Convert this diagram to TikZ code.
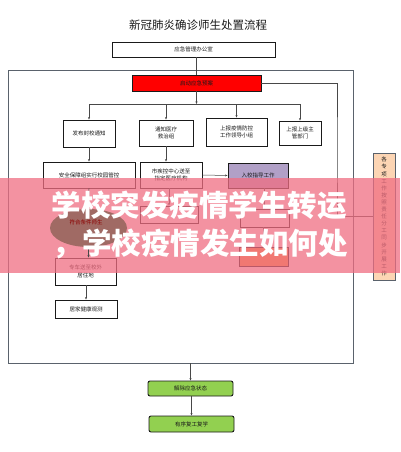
\documentclass[tikz,border=0pt]{standalone}
\usepackage{fontspec}
\setmainfont{Noto Sans CJK SC}
\usetikzlibrary{arrows.meta,shapes.geometric}
\definecolor{fcink}{HTML}{1A1A1A}
\definecolor{fcframe}{HTML}{5A626C}
\definecolor{fcred}{HTML}{FF0000}
\definecolor{fcgreen}{HTML}{92D050}
\definecolor{fcpurple}{HTML}{B1A0C7}
\definecolor{fcpeach}{HTML}{FCD5B4}
\definecolor{fcorange}{HTML}{F79646}
\definecolor{fcbrown}{RGB}{160,106,100}
\definecolor{fcband}{RGB}{240,110,130}
\tikzset{
  flowbox/.style={draw=fcink,line width=0.9pt,fill=white,inner sep=1pt,align=center,
    font=\fontsize{5.5}{7.5}\selectfont\color{fcink}},
  greenbox/.style={flowbox,fill=fcgreen,rounded corners=2pt},
  flowarrow/.style={-{Stealth[length=2.5pt,width=2pt]},fcink!80,line width=0.5pt},
  flowline/.style={fcink!80,line width=0.5pt},
  bandtext/.style={text=white,inner sep=0pt,font=\fontsize{29.5}{31}\selectfont\bfseries}
}

\begin{document}
\begin{tikzpicture}[x=1pt,y=-1pt]
  \useasboundingbox[fill=white] (0,0) rectangle (400,452);
  % title and outer frame
  \node[font=\fontsize{11.5}{13}\selectfont,text=fcink] (title) at (198,25) {新冠肺炎确诊师生处置流程};
  \draw[fcframe,line width=1pt] (8,70) rectangle (353,363);
  \node[flowbox,minimum width=163pt,minimum height=15pt] (office) at (193.5,49.5) {应急管理办公室};
  \node[flowbox,fill=fcred,minimum width=129pt,minimum height=16pt] (plan) at (196.5,83) {启动应急预案};
  % first row
  \node[flowbox,minimum width=52pt,minimum height=27pt] (notice) at (89,133.5) {发布封校通知};
  \node[flowbox,minimum width=54pt,minimum height=26pt] (medical) at (166,133) {通知医疗\\救治组};
  \node[flowbox,minimum width=61pt,minimum height=28pt] (leader) at (236.5,132) {上报疫情防控\\工作领导小组};
  \node[flowbox,minimum width=42pt,minimum height=24pt] (superior) at (300,133) {上报上级主\\管部门};
  % second row
  \node[flowbox,minimum width=92pt,minimum height=26pt] (campus) at (89,175) {安全保障组实行校园管控};
  \node[flowbox,minimum width=62pt,minimum height=26pt] (cdc) at (171,175) {市疾控中心送至\\指定医疗机构};
  \node[flowbox,fill=fcpurple,minimum width=60pt,minimum height=25pt] (guide) at (258,175.5) {入校指导工作};
  \node[flowbox,minimum width=58pt,minimum height=17pt] (trace) at (169,214.5) {};
  \node[flowbox,minimum width=49pt,minimum height=18pt] (follow) at (264.5,218) {};
  \node[flowbox,fill=fcorange,minimum width=49pt,minimum height=19pt] (disinfect) at (263.5,256.5) {};
  \node[flowbox,minimum width=61pt,minimum height=27pt] (car) at (85.5,271.5) {专车送至校外\\居住地};
  \node[flowbox,minimum width=62pt,minimum height=18pt] (home) at (86,309) {居家健康观测};
  \node[flowbox,fill=fcpeach,draw=fcframe,minimum width=22pt,minimum height=127pt,
    font=\fontsize{5.5}{7.1}\selectfont\color{fcink}] (tasks) at (384,216.5)
    {各\\专\\项\\工\\作\\按\\照\\责\\任\\分\\工\\同\\步\\开\\展\\工\\作};
  % bottom
  \node[greenbox,minimum width=85pt,minimum height=15pt] (release) at (190.5,388.5) {解除应急状态};
  \node[greenbox,minimum width=85pt,minimum height=16pt] (resume) at (191.5,424) {有序复工复学};
  \coordinate (split) at (196.5,104);
  \coordinate (bus) at (337,150);
  \coordinate (framebot) at (190.5,363);
  % connectors
  \draw[flowline] (office.south -| plan.north) -- (plan.north);
  \draw[flowarrow] (plan.south) -- (split);
  \draw[flowline] (notice.north |- split) -- (superior.north |- split);
  \foreach \n in {notice,medical,leader,superior}
    \draw[flowarrow] (\n.north |- split) -- (\n.north);
  \draw[flowarrow] (notice.south) -- (campus.north);
  \draw[flowarrow] (medical.south) -- (medical.south |- cdc.north);
  \draw[flowarrow] (cdc.east) -- (guide.west);
  \draw[flowline] (plan.east) -| (bus) |- (tasks.west);
  \draw[flowarrow] (cdc.south -| trace.north) -- (trace.north);
  \draw[flowarrow] (guide.south -| follow.north) -- (follow.north);
  \draw[flowarrow] (follow.south -| disinfect.north) -- (disinfect.north);
  % overlay band
  \fill[fcband,opacity=0.75] (0,178) rectangle (400,273);
  \node[ellipse,fill=fcbrown,minimum width=77pt,minimum height=38pt,inner sep=0pt] (eligible) at (88.5,228) {};
  \node[font=\fontsize{5.5}{7}\selectfont,text=fcred!55!black] (eligibletext) at (86,222) {符合条件师生};
  \draw[flowarrow] (campus.south) -- (eligible.north);
  \draw[flowarrow] (eligible.south) -- (car.north -| eligible.south);
  \draw[flowarrow] (car.south -| home.north) -- (home.north);
  \draw[flowarrow] (framebot) -- (release.north -| framebot);
  \draw[flowarrow] (release.south -| resume.north) -- (resume.north);
  \node[bandtext] (headline) at (199,205) {学校突发疫情学生转运};
  \node[bandtext] (subline) at (200,244) {，学校疫情发生如何处};
\end{tikzpicture}
\end{document}
